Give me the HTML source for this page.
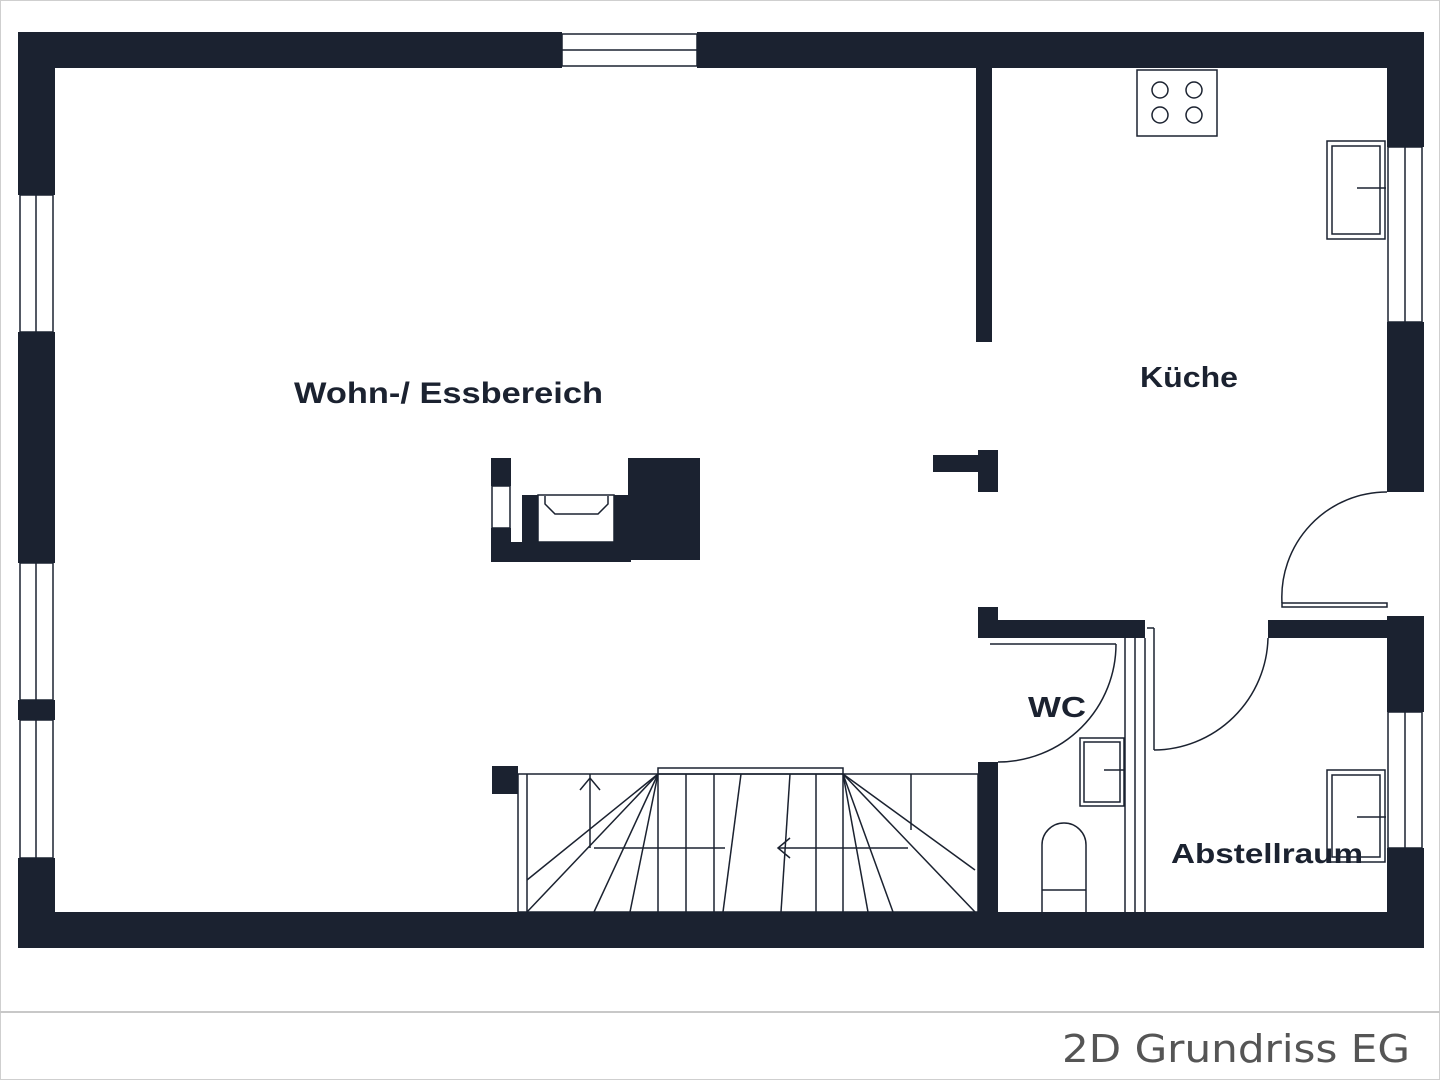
<!DOCTYPE html>
<html><head><meta charset="utf-8"><style>
html,body{margin:0;padding:0;background:#fff}
svg{display:block}
</style></head><body>
<svg width="1440" height="1080" viewBox="0 0 1440 1080" xmlns="http://www.w3.org/2000/svg">
<rect x="0.5" y="0.5" width="1439" height="1079" fill="#fff" stroke="#cfcfcf"/>
<line x1="0" y1="1012" x2="1440" y2="1012" stroke="#c8c8c8" stroke-width="2"/>
<text x="1062" y="1062" textLength="348" lengthAdjust="spacingAndGlyphs" font-family="DejaVu Sans, sans-serif" font-size="38" fill="#555">2D Grundriss EG</text>
<g fill="#1b2230">
<rect x="18" y="32" width="544" height="36"/>
<rect x="697" y="32" width="727" height="36"/>
<rect x="18" y="912" width="1406" height="36"/>
<rect x="18" y="32" width="37" height="163"/>
<rect x="18" y="332" width="37" height="231"/>
<rect x="18" y="700" width="37" height="20"/>
<rect x="18" y="858" width="37" height="90"/>
<rect x="1387" y="32" width="37" height="115"/>
<rect x="1387" y="322" width="37" height="170"/>
<rect x="1387" y="616" width="37" height="96"/>
<rect x="1387" y="848" width="37" height="100"/>
<rect x="976" y="68" width="16" height="274"/>
<rect x="933" y="455" width="50" height="17"/>
<rect x="978" y="450" width="20" height="42"/>
<rect x="978" y="607" width="20" height="31"/>
<rect x="978" y="620" width="167" height="18"/>
<rect x="978" y="762" width="20" height="150"/>
<rect x="1268" y="620" width="120" height="18"/>
<rect x="628" y="458" width="72" height="102"/>
<rect x="491" y="458" width="20" height="28"/>
<rect x="491" y="528" width="20" height="34"/>
<rect x="491" y="542" width="140" height="20"/>
<rect x="522" y="495" width="16" height="50"/>
<rect x="614" y="495" width="14" height="50"/>
<rect x="492" y="766" width="26" height="28"/>
</g>
<g fill="none" stroke="#1b2230" stroke-width="1.5">
<rect x="562" y="34" width="135" height="32"/><line x1="562" y1="50" x2="697" y2="50"/>
<rect x="20" y="195" width="33" height="137"/><line x1="36" y1="195" x2="36" y2="332"/>
<rect x="20" y="563" width="33" height="137"/><line x1="36" y1="563" x2="36" y2="700"/>
<rect x="20" y="720" width="33" height="138"/><line x1="36" y1="720" x2="36" y2="858"/>
<rect x="1388" y="147" width="34" height="175"/><line x1="1405" y1="147" x2="1405" y2="322"/>
<rect x="1388" y="712" width="34" height="136"/><line x1="1405" y1="712" x2="1405" y2="848"/>
<rect x="492" y="486" width="18" height="42"/>
<rect x="1137" y="70" width="80" height="66"/>
<circle cx="1160" cy="90" r="8"/><circle cx="1194" cy="90" r="8"/>
<circle cx="1160" cy="115" r="8"/><circle cx="1194" cy="115" r="8"/>
<rect x="1327" y="141" width="58" height="98"/><rect x="1332" y="146" width="48" height="88"/>
<line x1="1357" y1="188" x2="1386" y2="188"/>
<rect x="1327" y="770" width="58" height="92"/><rect x="1332" y="775" width="48" height="82"/>
<line x1="1357" y1="817" x2="1386" y2="817"/>
<rect x="1080" y="738" width="44" height="68"/><rect x="1084" y="742" width="36" height="60"/>
<line x1="1104" y1="770" x2="1124" y2="770"/>
<path d="M1042 912 V845 A22 22 0 0 1 1086 845 V912"/><line x1="1042" y1="890" x2="1086" y2="890"/>
<line x1="1125" y1="630" x2="1125" y2="912"/><line x1="1135" y1="630" x2="1135" y2="912"/><line x1="1145" y1="638" x2="1145" y2="912"/>
<line x1="1147" y1="628" x2="1154" y2="628"/><line x1="1154" y1="628" x2="1154" y2="750"/>
<line x1="990" y1="644" x2="1116" y2="644"/>
<path d="M1116 644 A118 118 0 0 1 998 762"/>
<path d="M1268 638 A115 115 0 0 1 1154 750"/>
<path d="M1387 492 A105 105 0 0 0 1282 603"/>
<rect x="1282" y="603" width="105" height="4"/>
<rect x="538" y="495" width="76" height="47"/>
<path d="M545 496 v8 l10 10 h43 l10 -10 v-8"/>
<rect x="518" y="774" width="460" height="138"/>
<rect x="658" y="768" width="185" height="6"/>
<line x1="527" y1="774" x2="527" y2="912"/>
<line x1="590" y1="774" x2="590" y2="848"/>
<path d="M580 790 L590 778 L600 790"/>
<line x1="594" y1="848" x2="725" y2="848"/>
<line x1="778" y1="848" x2="908" y2="848"/>
<path d="M790 838 L778 848 L790 858"/>
<line x1="658" y1="774" x2="527" y2="880"/>
<line x1="658" y1="774" x2="527" y2="912"/>
<line x1="658" y1="774" x2="594" y2="912"/>
<line x1="658" y1="774" x2="630" y2="912"/>
<line x1="658" y1="774" x2="658" y2="912"/>
<line x1="686" y1="774" x2="686" y2="912"/>
<line x1="714" y1="774" x2="714" y2="912"/>
<line x1="741" y1="774" x2="723" y2="912"/>
<line x1="790" y1="774" x2="781" y2="912"/>
<line x1="816" y1="774" x2="816" y2="912"/>
<line x1="843" y1="774" x2="843" y2="912"/>
<line x1="843" y1="774" x2="868" y2="912"/>
<line x1="843" y1="774" x2="893" y2="912"/>
<line x1="843" y1="774" x2="975" y2="912"/>
<line x1="843" y1="774" x2="975" y2="870"/>
<line x1="911" y1="774" x2="911" y2="830"/>
</g>
<g font-family="Liberation Sans, sans-serif" font-weight="bold" fill="#1b2230">
<text x="294" y="403" font-size="30" textLength="309" lengthAdjust="spacingAndGlyphs">Wohn-/ Essbereich</text>
<text x="1140" y="387" font-size="29" textLength="98" lengthAdjust="spacingAndGlyphs">Küche</text>
<text x="1028" y="717" font-size="29" textLength="58" lengthAdjust="spacingAndGlyphs">WC</text>
<text x="1171" y="863" font-size="28" textLength="192" lengthAdjust="spacingAndGlyphs">Abstellraum</text>
</g>
</svg>
</body></html>
